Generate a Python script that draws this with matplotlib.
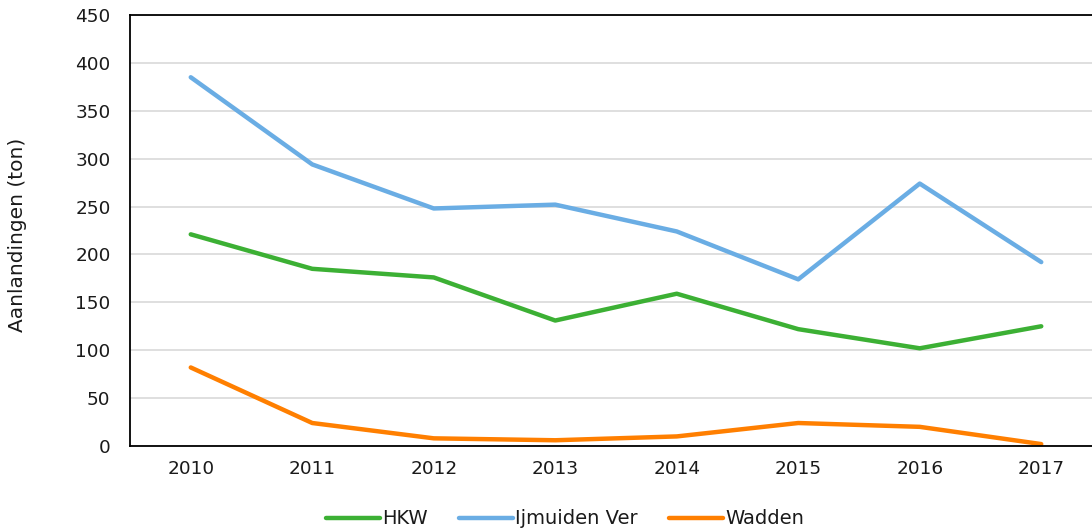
import matplotlib
matplotlib.use("Agg")
import matplotlib.pyplot as plt

years = ["2010", "2011", "2012", "2013", "2014", "2015", "2016", "2017"]
hkw = [221, 185, 176, 131, 159, 122, 102, 125]
ijmuiden = [385, 294, 248, 252, 224, 174, 274, 192]
wadden = [82, 24, 8, 6, 10, 24, 20, 2]

W, H = 1092, 531
fig = plt.figure(figsize=(W / 100, H / 100), dpi=100)
left, right = 130, 1102
top, bottom = 15, 446
ax = fig.add_axes([left / W, 1 - bottom / H, (right - left) / W, (bottom - top) / H])

x = list(range(len(years)))
ax.plot(x, hkw, color="#3cb034", lw=3.2, label="HKW", solid_capstyle="round")
ax.plot(x, ijmuiden, color="#6aade4", lw=3.2, label="Ijmuiden Ver", solid_capstyle="round")
ax.plot(x, wadden, color="#ff7f00", lw=3.2, label="Wadden", solid_capstyle="round")

ax.set_xlim(-0.5, 7.5)
ax.set_ylim(0, 450)
ax.set_yticks(range(0, 451, 50))
ax.set_xticks(x)
ax.set_xticklabels(years)
ax.yaxis.grid(True, color="#d9d9d9", lw=1.2)
ax.set_axisbelow(True)
for s in ax.spines.values():
    s.set_color("black")
    s.set_linewidth(1.3)
ax.tick_params(length=0, labelsize=13.3, colors="#1a1a1a")
ax.tick_params(axis="y", pad=14)
ax.tick_params(axis="x", pad=10)
ax.set_ylabel("Aanlandingen (ton)", fontsize=14.5, color="#1a1a1a", va="center")
ax.yaxis.set_label_coords(18 / W, 1 - 235 / H, transform=fig.transFigure)

fig.legend(loc="center", bbox_to_anchor=(565 / W, 1 - 519 / H), ncol=3, frameon=False,
           fontsize=14, handlelength=2.8, handletextpad=0.1, columnspacing=1.6,
           labelcolor="#1a1a1a")

fig.savefig("out.png", dpi=100)
